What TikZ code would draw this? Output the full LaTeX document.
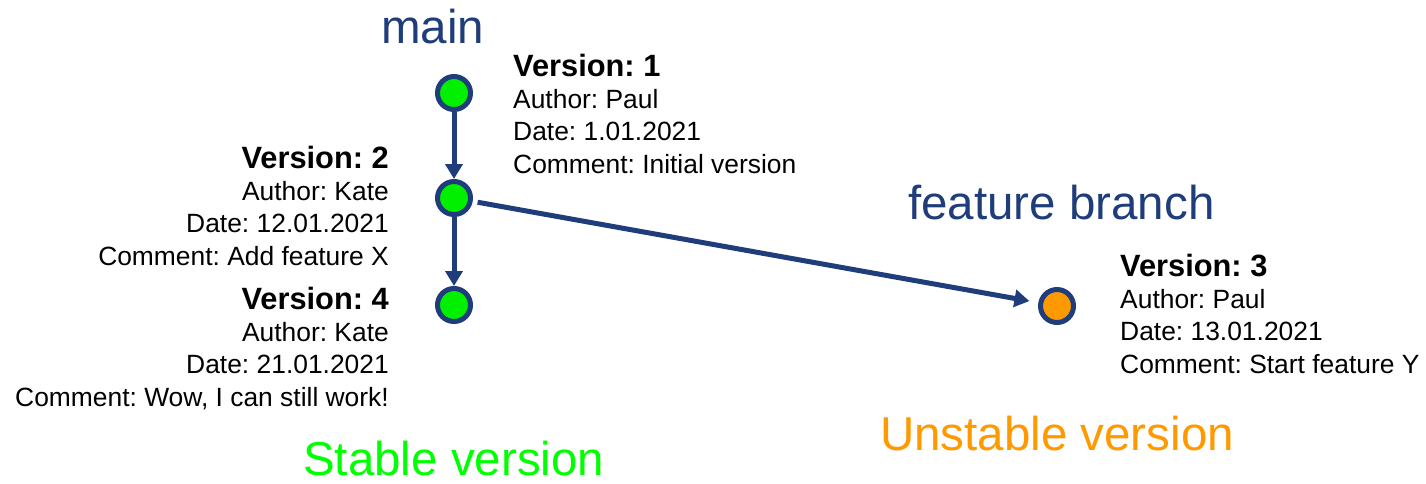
\documentclass[tikz,border=0pt]{standalone}
\usepackage{fontspec}
\setmainfont{Liberation Sans}
\usetikzlibrary{arrows.meta}
\frenchspacing
\definecolor{navy}{HTML}{1F3D7A}
\definecolor{stablegreen}{HTML}{00FF00}
\definecolor{nodegreen}{HTML}{00F000}
\definecolor{unstableorange}{HTML}{FF9900}
\tikzset{
  commit/.style={circle, draw=navy, line width=5pt, minimum size=33pt, inner sep=0pt},
  link/.style={draw=navy, line width=5pt, -{Triangle[length=15pt,width=17pt]}},
  bigtitle/.style={inner sep=0pt, font=\fontsize{47.5}{55}\selectfont},
  infoblock/.style={inner sep=0pt, font=\fontsize{26.4}{32.4}\selectfont},
}
\newcommand{\vhead}[1]{{\fontsize{30.8}{32.4}\selectfont\bfseries #1}}
\begin{document}
\begin{tikzpicture}[x=1pt,y=-1pt]
\useasboundingbox (0,0) rectangle (1426,483);

% branch titles
\node[bigtitle, text=navy, anchor=base west] (mainlbl) at (381,43) {main};
\node[bigtitle, text=navy, anchor=base west] (featlbl) at (908,219) {feature branch};
\node[bigtitle, text=stablegreen, anchor=base west] (stablelbl) at (303,475) {Stable version};
\node[bigtitle, text=unstableorange, anchor=base west] (unstablelbl) at (880,450) {Unstable version};

% commits
\node[commit, fill=nodegreen] (v1) at (454,93) {};
\node[commit, fill=nodegreen] (v2) at (454,198) {};
\node[commit, fill=nodegreen] (v4) at (454,305) {};
\node[commit, fill=unstableorange] (v3) at (1057,306) {};

% history links
\draw[link] (v1) -- (v2);
\draw[link] (v2) -- (v4);
\draw[link, shorten <=5pt, shorten >=9pt] (v2) -- (v3);

% commit details
\node[infoblock, anchor=base west] (info1) at (513,76) {\begin{tabular}[t]{@{}l@{}}
\vhead{Version: 1}\\ Author: Paul\\ Date: 1.01.2021\\ Comment: Initial version\end{tabular}};
\node[infoblock, anchor=base east] (info2) at (389,168) {\begin{tabular}[t]{@{}r@{}}
\vhead{Version: 2}\\ Author: Kate\\ Date: 12.01.2021\\ Comment: Add feature X\end{tabular}};
\node[infoblock, anchor=base east] (info4) at (389,309) {\begin{tabular}[t]{@{}r@{}}
\vhead{Version: 4}\\ Author: Kate\\ Date: 21.01.2021\\ Comment: Wow, I can still work!\end{tabular}};
\node[infoblock, anchor=base west] (info3) at (1120,276) {\begin{tabular}[t]{@{}l@{}}
\vhead{Version: 3}\\ Author: Paul\\ Date: 13.01.2021\\ Comment: Start feature Y\end{tabular}};
\end{tikzpicture}
\end{document}
